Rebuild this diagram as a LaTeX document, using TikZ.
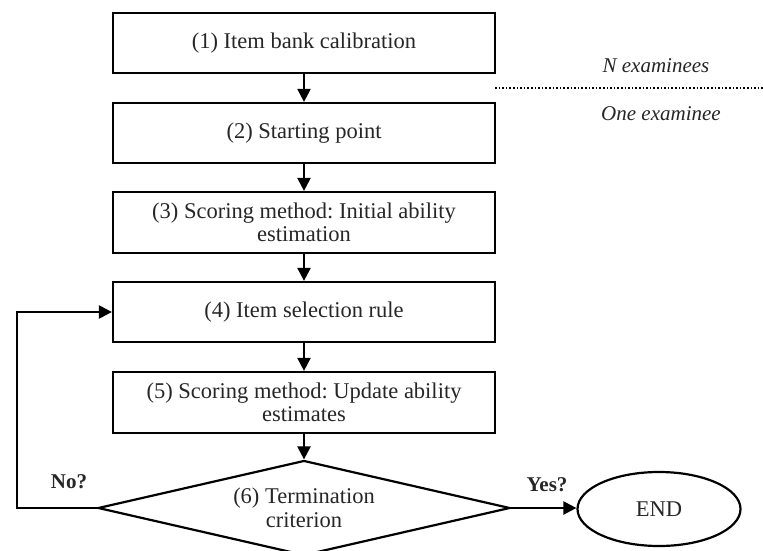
\documentclass[tikz,border=0pt]{standalone}
\usepackage{fontspec}
\setmainfont{Liberation Serif}
\usetikzlibrary{arrows.meta,shapes.geometric}
\frenchspacing
\begin{document}
\begin{tikzpicture}[x=1pt,y=-1pt,
  every node/.style={font=\fontsize{22.5}{23.5}\selectfont, text=black!85},
  stepbox/.style={draw=black, line width=2.2pt, minimum width=382pt, minimum height=60pt, inner sep=0pt, align=center},
  decide/.style={draw=black, line width=2.2pt, diamond, minimum width=412pt, minimum height=95pt, aspect=4.34, inner sep=0pt, align=center},
  endnode/.style={draw=black, line width=2.2pt, ellipse, minimum width=163pt, minimum height=74pt, inner sep=0pt},
  conn/.style={line width=2.2pt, -{Triangle[length=13pt,width=13pt]}},
  lbl/.style={font=\fontsize{21}{23.5}\selectfont\bfseries},
  side/.style={font=\fontsize{21}{23.5}\selectfont\itshape}
]
\useasboundingbox (0,0) rectangle (763,551);
\clip (0,0) rectangle (763,551);
\node[stepbox] (s1) at (304,43) {(1) Item bank calibration};
\node[stepbox] (s2) at (304,133) {(2) Starting point};
\node[stepbox, minimum height=61pt] (s3) at (304,222.5) {(3) Scoring method: Initial ability\\estimation};
\node[stepbox] (s4) at (304,312) {(4) Item selection rule};
\node[stepbox, minimum height=61pt] (s5) at (304,402.5) {(5) Scoring method: Update ability\\estimates};
\node[decide] (s6) at (304,508) {(6) Termination\\criterion};
\node[endnode] (end) at (659,509) {END};
\coordinate (lb) at (17,508);
\coordinate (lt) at (17,312);
\draw[conn] (s1) -- (s2);
\draw[conn] (s2) -- (s3);
\draw[conn] (s3) -- (s4);
\draw[conn] (s4) -- (s5);
\draw[conn] (s5) -- (s6);
\draw[conn] (s6.east) -- (end.west |- s6.east);
\draw[conn] (s6.west) -- (lb) -- (lt) -- (s4.west);
\node[lbl] (no) at (69,482) {No?};
\node[lbl] (yes) at (547,485) {Yes?};
\coordinate (dl) at (495,88);
\coordinate (dr) at (763,88);
\draw[line width=1.6pt, dotted] (dl) -- (dr);
\node[side] (nex) at (656,66) {N examinees};
\node[side] (oex) at (661,114) {One examinee};
\end{tikzpicture}
\end{document}
